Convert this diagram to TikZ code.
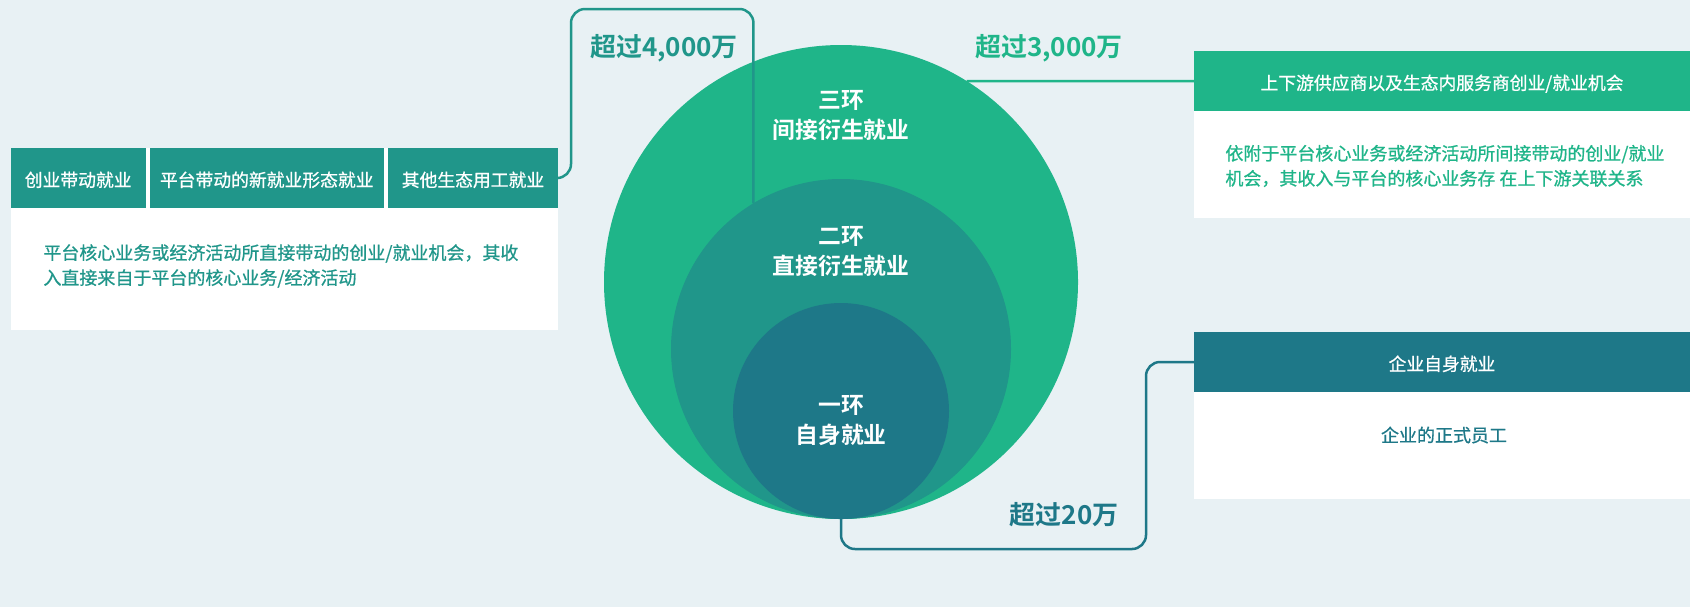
\documentclass[tikz,border=0pt]{standalone}
\usepackage{fontspec}
\setmainfont{Noto Sans CJK SC}[BoldFont={Noto Sans CJK SC Bold}]
\newfontfamily\cjkmid{Noto Sans CJK SC}[FakeBold=0.8]
\definecolor{bgc}{HTML}{E8F1F4}
\definecolor{ringout}{HTML}{1FB589}
\definecolor{ringmid}{HTML}{20968A}
\definecolor{ringin}{HTML}{1E7888}

\begin{document}
\begin{tikzpicture}[x=0.5pt,y=-0.5pt,
  ring/.style={circle,inner sep=0pt,outer sep=0pt},
  ring label/.style={text=white,align=center,font=\fontsize{11.4}{15}\selectfont\bfseries},
  head cell/.style={rectangle,inner sep=0pt,outer sep=0pt,minimum height=30pt,text height=10.2pt,text depth=1.6pt,text=white,font=\cjkmid\fontsize{8.9}{11}\selectfont},
  body box/.style={rectangle,fill=white,inner sep=0pt,outer sep=0pt,minimum width=248pt,minimum height=83.5pt},
  body text/.style={inner sep=0pt,align=left,font=\cjkmid\fontsize{9}{12.5}\selectfont},
  count/.style={inner sep=0pt,font=\fontsize{13}{15}\selectfont\bfseries},
  link/.style={line width=1.25pt,rounded corners=7pt}]

\useasboundingbox (0,0) rectangle (1690,607);
\fill[bgc] (0,0) rectangle (1690,607);

\node[ring,fill=ringout,minimum size=237pt](ring3) at (841,282){};
\node[ring,fill=ringmid,minimum size=170pt](ring2) at (841,349){};
\node[ring,fill=ringin,minimum size=108pt](ring1) at (841,411){};

\node[ring label](lab3) at (841,115){三环\\间接衍生就业};
\node[ring label](lab2) at (841,251){二环\\直接衍生就业};
\node[ring label](lab1) at (841,421){一环\\自身就业};

% left panel
\node[body box,minimum width=273.6pt,minimum height=91pt](leftbox) at (284.4,239){};
\node[head cell,fill=ringmid,minimum width=67.35pt](hd1) at (78.2,178){创业带动就业};
\node[head cell,fill=ringmid,minimum width=116.95pt](hd2) at (266.75,178){平台带动的新就业形态就业};
\node[head cell,fill=ringmid,minimum width=85pt](hd3) at (473,178){其他生态用工就业};
\node[body text,text=ringmid,anchor=west](lefttxt) at (43,266){平台核心业务或经济活动所直接带动的创业/就业机会，其收\\入直接来自于平台的核心业务/经济活动};

% right panels
\node[body box](topbox) at (1442,134.5){};
\node[head cell,fill=ringout,minimum width=248pt](hdR) at (1442,81){上下游供应商以及生态内服务商创业/就业机会};
\node[body text,text=ringout,anchor=west](toptxt) at (1225,166){依附于平台核心业务或经济活动所间接带动的创业/就业\\机会，其收入与平台的核心业务存 在上下游关联关系};

\node[body box](ownbox) at (1442,415.5){};
\node[head cell,fill=ringin,minimum width=248pt](hdE) at (1442,362){企业自身就业};
\node[body text,text=ringin](owntxt) at (1444,435){企业的正式员工};

\node[count,text=ringmid](cnt3) at (664,48){超过4,000万};
\node[count,text=ringout](cnt2) at (1049,48){超过3,000万};
\node[count,text=ringin](cnt1) at (1064,515){超过20万};

\draw[link,ringmid] (hd3.east) -| (571,9) -| (ring2.121);
\draw[link,ringout] (ring3.58) -- (hdR.west);
\draw[link,ringin] (ring1.south) |- (1146,549) |- (hdE.west);
\end{tikzpicture}
\end{document}
